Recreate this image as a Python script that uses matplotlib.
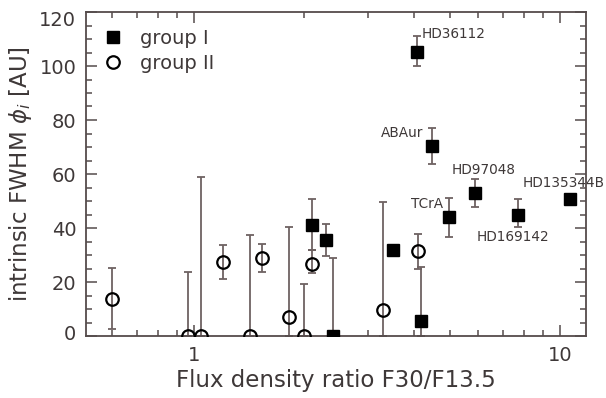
import matplotlib
matplotlib.use("Agg")
import matplotlib.pyplot as plt
from matplotlib.transforms import ScaledTranslation
from matplotlib.ticker import LogLocator, NullFormatter, FixedLocator, MultipleLocator, FixedFormatter

# ---- data ----
# group I (filled squares)
g1_x = [2.1, 2.3, 2.41, 3.5, 4.17, 4.08, 4.49, 4.98, 5.87, 7.71, 10.7]
g1_y = [41.0, 35.6, 0.0, 31.9, 5.7, 105.3, 70.4, 44.2, 53.1, 45.0, 50.6]
g1_err_lo = [9.1, 6.0, 0.0, 0.0, 5.7, 5.2, 6.7, 7.4, 5.4, 4.5, 1.5]
g1_err_hi = [9.6, 5.9, 29.0, 0.0, 20.0, 5.8, 6.5, 6.8, 5.0, 5.6, 1.5]

# group II (open circles)
g2_x = [0.598, 0.966, 1.047, 1.2, 1.425, 1.54, 1.825, 2.0, 2.1, 3.3, 4.1]
g2_y = [13.7, 0.0, 0.0, 27.3, 0.0, 29.0, 6.9, 0.0, 26.7, 9.6, 31.6]
g2_err_lo = [11.1, 0.0, 0.0, 6.2, 0.0, 5.4, 6.9, 0.0, 3.5, 9.6, 6.6]
g2_err_hi = [11.6, 23.8, 59.0, 6.4, 37.4, 5.0, 33.3, 19.1, 5.2, 39.9, 6.2]

# named objects (index into group I)
names = ["HD36112", "ABAur", "TCrA", "HD97048", "HD169142", "HD135344B"]
name_idx = [5, 6, 7, 8, 9, 10]

x_ticks = [1, 10]
x_ticklabels = ["1", "10"]
y_ticks = [0, 20, 40, 60, 80, 100, 120]

# ---- style ----
axis_col = "#554b4b"
err_col = "#6e6262"
text_col = "#3e3838"

fig = plt.figure(figsize=(6.06, 3.98), dpi=100)
ax = fig.add_axes([86/606, 62/398, 500/606, 324/398])

ax.set_xscale("log")
ax.set_xlim(0.508, 11.8)
ax.set_ylim(0, 120)

ax.errorbar(g2_x, g2_y, yerr=[g2_err_lo, g2_err_hi], fmt="none",
            ecolor=err_col, elinewidth=1.3, capsize=3, capthick=1.3, zorder=2)
ax.errorbar(g1_x, g1_y, yerr=[g1_err_lo, g1_err_hi], fmt="none",
            ecolor=err_col, elinewidth=1.3, capsize=3, capthick=1.3, zorder=2)

ax.plot(g1_x, g1_y, "s", color="black", markersize=9, zorder=3, label="group I")
ax.plot(g2_x, g2_y, "o", markerfacecolor="none", markeredgecolor="black",
        markeredgewidth=1.6, markersize=9, zorder=3, label="group II")

offsets = {
    "HD36112": ((3, 12.7), "left"),
    "ABAur": ((-6.5, 9.4), "right"),
    "TCrA": ((-4.3, 9.1), "right"),
    "HD97048": ((6, 16.3), "center"),
    "HD169142": ((-3.6, -16.3), "center"),
    "HD135344B": ((-4.8, 11.7), "center"),
}
for nm, i in zip(names, name_idx):
    (dx, dy), ha = offsets[nm]
    ax.annotate(nm, (g1_x[i], g1_y[i]), xytext=(dx, dy), textcoords="offset points",
                ha=ha, va="center", fontsize=9.8, color=text_col,
                annotation_clip=False, zorder=4)

# ticks
ax.xaxis.set_major_locator(FixedLocator(x_ticks))
ax.xaxis.set_major_formatter(FixedFormatter(x_ticklabels))
ax.xaxis.set_minor_locator(LogLocator(base=10, subs=[2, 3, 4, 5, 6, 7, 8, 9], numticks=20))
ax.xaxis.set_minor_formatter(NullFormatter())
ax.yaxis.set_major_locator(FixedLocator(y_ticks))
ax.yaxis.set_minor_locator(MultipleLocator(5))

ax.tick_params(which="both", direction="in", top=True, right=True,
               color=axis_col, labelcolor=text_col, labelsize=14, width=1.1)
ax.tick_params(which="major", length=8, pad=7)
ax.tick_params(which="minor", length=4)
for s in ax.spines.values():
    s.set_color(axis_col)
    s.set_linewidth(1.3)

ax.set_xlabel("Flux density ratio F30/F13.5", fontsize=16.5, color=text_col, labelpad=3)
ax.set_ylabel(r"intrinsic FWHM $\phi_i$ [AU]", fontsize=16.5, color=text_col, labelpad=4)

leg = ax.legend(loc="upper left", bbox_to_anchor=(0.035, 0.948), frameon=False,
                fontsize=14, handlelength=1.0, handletextpad=0.9, labelspacing=0.3,
                borderaxespad=0, borderpad=0)
for t in leg.get_texts():
    t.set_color(text_col)

# nudge the end y tick labels inward like the original
fig.canvas.draw()
for lab in ax.get_yticklabels():
    txt = lab.get_text()
    if txt == "120":
        lab.set_transform(lab.get_transform() + ScaledTranslation(0, -7/100, fig.dpi_scale_trans))
    elif txt == "0":
        lab.set_transform(lab.get_transform() + ScaledTranslation(0, 4/100, fig.dpi_scale_trans))

fig.savefig("out.png", dpi=100)
